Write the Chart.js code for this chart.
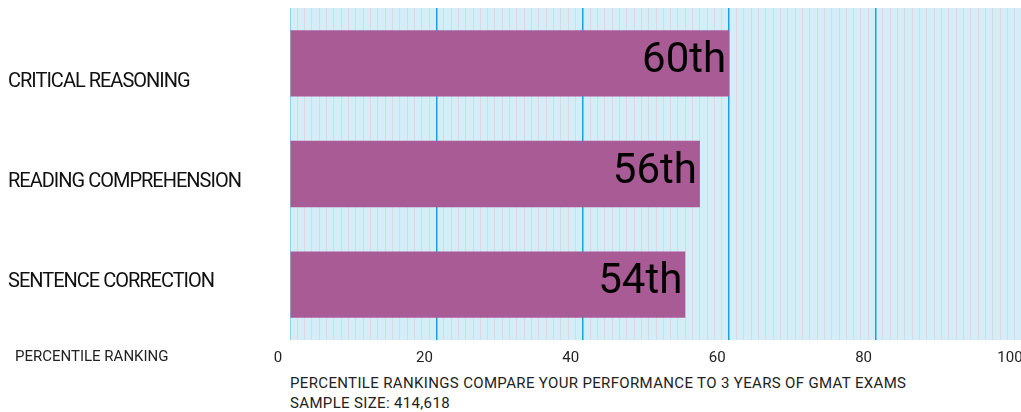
<!DOCTYPE html>
<html>
<head>
<meta charset="utf-8">
<script src="https://cdn.jsdelivr.net/npm/chart.js@4.4.1/dist/chart.umd.min.js"></script>
<style>
  html, body { margin: 0; padding: 0; background: #fff; overflow: hidden; width: 1021px; height: 412px; }
  #wrap { position: relative; width: 1021px; height: 412px; overflow: hidden; }
  #chart { position: absolute; left: 0; top: 0; }
  .note { position: absolute; font-family: Roboto, sans-serif; font-size: 15px; color: #222; white-space: nowrap; }
  #axisName { left: 15px; top: 347px; }
  #foot1 { left: 290px; top: 374px; letter-spacing: 0.35px; }
  #foot2 { left: 290px; top: 394px; letter-spacing: 0.35px; }
</style>
</head>
<body>
<div id="wrap">
  <canvas id="chart" width="1060" height="370"></canvas>
  <div class="note" id="axisName">PERCENTILE RANKING</div>
  <div class="note" id="foot1">PERCENTILE RANKINGS COMPARE YOUR PERFORMANCE TO 3 YEARS OF GMAT EXAMS</div>
  <div class="note" id="foot2">SAMPLE SIZE: 414,618</div>
</div>
<script>
// Chart data
var sections = ['CRITICAL REASONING', 'READING COMPREHENSION', 'SENTENCE CORRECTION'];
var percentiles = [60, 56, 54];
var tickMin = 0;
var tickMax = 100;
var majorStep = 20;

var barColor = '#a95b96';
var plotBackground = '#d3eef9';
var majorLineColor = '#1aa1dc';
var minorLineColor = '#dcd9de';
var zeroLineColor = '#8fd1ee';

/**
 * Ordinal label for a percentile value
 * @param value
 * @returns {string}
 */
function ordinal(value) {
    var s = ['th', 'st', 'nd', 'rd'];
    var v = value % 100;
    return value + (s[(v - 20) % 10] || s[v] || s[0]);
}

// Light blue plot background
var backgroundPlugin = {
    id: 'plotBackground',
    beforeDraw: function(chart) {
        var a = chart.chartArea;
        var ctx = chart.ctx;
        ctx.save();
        ctx.fillStyle = plotBackground;
        ctx.fillRect(a.left, a.top, a.right - a.left, a.bottom - a.top);
        ctx.restore();
    }
};

// Value labels inside the end of each bar
var barLabelPlugin = {
    id: 'barLabels',
    afterDatasetsDraw: function(chart) {
        var ctx = chart.ctx;
        var meta = chart.getDatasetMeta(0);
        ctx.save();
        ctx.font = '42px Roboto';
        ctx.fillStyle = '#000';
        ctx.textAlign = 'right';
        ctx.textBaseline = 'middle';
        meta.data.forEach(function(bar, i) {
            ctx.fillText(ordinal(percentiles[i]), bar.x - 3, bar.y - 2);
        });
        ctx.restore();
    }
};

// Section names on the left, tight letter spacing
var sectionLabelPlugin = {
    id: 'sectionLabels',
    afterDraw: function(chart) {
        var ctx = chart.ctx;
        var y = chart.scales.y;
        var mid = (chart.chartArea.top + chart.chartArea.bottom) / 2;
        ctx.save();
        ctx.font = '20px Roboto';
        ctx.fillStyle = '#111';
        ctx.textAlign = 'left';
        ctx.textBaseline = 'middle';
        ctx.letterSpacing = '-1px';
        sections.forEach(function(name, i) {
            var py = y.getPixelForValue(i);
            ctx.fillText(name, 8, mid + (py - mid) * 0.9 + 8);
        });
        ctx.restore();
    }
};

var ctx = document.getElementById('chart').getContext('2d');
var chart = new Chart(ctx, {
    type: 'bar',
    data: {
        labels: sections,
        datasets: [{
            data: percentiles,
            backgroundColor: barColor,
            borderWidth: 0,
            categoryPercentage: 1,
            barPercentage: 0.6
        }]
    },
    options: {
        indexAxis: 'y',
        responsive: false,
        animation: false,
        layout: { padding: { top: 8, left: 8, right: 38, bottom: 0 } },
        plugins: {
            legend: { display: false },
            tooltip: { enabled: false }
        },
        scales: {
            x: {
                min: tickMin,
                max: tickMax,
                border: { display: false },
                grid: {
                    drawTicks: false,
                    color: function(c) {
                        if (c.tick.value === 0) return zeroLineColor;
                        return c.tick.value % majorStep === 0 ? majorLineColor : minorLineColor;
                    },
                    lineWidth: function(c) {
                        return c.tick.value % majorStep === 0 && c.tick.value !== 0 ? 1.5 : 1;
                    }
                },
                ticks: {
                    stepSize: 1,
                    autoSkip: false,
                    maxRotation: 0,
                    padding: 9,
                    labelOffset: -12,
                    color: '#222',
                    font: { family: 'Roboto', size: 15 },
                    callback: function(value) {
                        return value % majorStep === 0 ? value : '';
                    }
                },
                afterFit: function(scale) { scale.height = 30; }
            },
            y: {
                border: { display: false },
                grid: { display: false },
                ticks: { display: false },
                afterFit: function(scale) { scale.width = 282; }
            }
        }
    },
    plugins: [backgroundPlugin, barLabelPlugin, sectionLabelPlugin]
});
</script>
</body>
</html>
